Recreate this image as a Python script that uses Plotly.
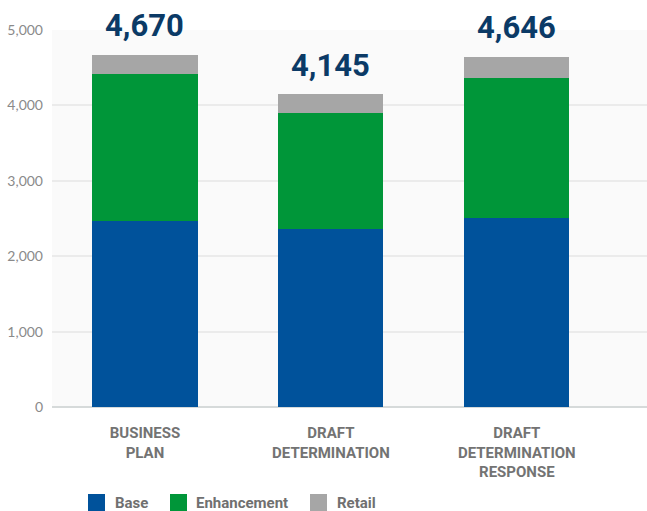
import plotly.graph_objects as go

# Scenario categories and the stacked components (values in £m)
categories = ["BUSINESS<br>PLAN", "DRAFT<br>DETERMINATION", "DRAFT<br>DETERMINATION<br>RESPONSE"]
base = [2470, 2355, 2510]
enhancement = [1945, 1540, 1860]
retail = [255, 250, 276]

series_names = ["Base", "Enhancement", "Retail"]
series_colors = ["#00529b", "#009639", "#a6a6a6"]
y_ticks = [0, 1000, 2000, 3000, 4000, 5000]

totals = [b + e + r for b, e, r in zip(base, enhancement, retail)]

fig = go.Figure()
for name, vals, col in zip(series_names, [base, enhancement, retail], series_colors):
    fig.add_trace(go.Bar(
        x=categories, y=vals, name=name, marker=dict(color=col, line=dict(width=0)),
        width=0.565, showlegend=False, hoverinfo="y+name",
    ))

# Total labels above each stack
for cat, tot in zip(categories, totals):
    fig.add_annotation(
        x=cat, y=tot, text=f"<b>{tot:,}</b>", showarrow=False,
        yanchor="middle", yshift=29,
        font=dict(family="Roboto", size=31, color="#0b3a66"),
    )

# Legend drawn as swatches + labels below the axis
W, H = 595, 377  # plot area size in px
L0 = 52
legend_items = [(88, 113), (170, 194), (310, 335)]
for (sx, tx), name, col in zip(legend_items, series_names, series_colors):
    fig.add_shape(
        type="rect", xref="paper", yref="paper",
        x0=(sx - L0) / W, x1=(sx + 17 - L0) / W,
        y0=(407 - 494) / H, y1=(407 - 512) / H,
        fillcolor=col, line=dict(width=0),
    )
    fig.add_annotation(
        xref="paper", yref="paper", x=(tx - L0) / W, y=(407 - 503) / H,
        xanchor="left", yanchor="middle", showarrow=False,
        text=f"<b>{name}</b>", font=dict(family="Roboto", size=15, color="#707070"),
    )

fig.update_layout(
    width=647, height=511,
    margin=dict(l=52, r=0, t=30, b=104),
    barmode="stack",
    paper_bgcolor="white",
    plot_bgcolor="#fafafa",
    bargap=0.435,
    xaxis=dict(
        range=[-0.5, 2.7], showgrid=False, zeroline=False, showline=False,
        ticks="", ticklabelstandoff=15,
        tickfont=dict(family="Roboto", size=15, color="#737373", weight="bold"),
    ),
    yaxis=dict(
        range=[0, 5000], tickvals=y_ticks, tickformat=",",
        showgrid=True, gridcolor="#ebebeb", gridwidth=2,
        zeroline=True, zerolinecolor="#d6dada", zerolinewidth=2,
        showline=False, ticks="", ticklabelstandoff=8,
        tickfont=dict(family="Lato", size=14, color="#8a8a8a"),
    ),
)

fig.write_html("out.html")
